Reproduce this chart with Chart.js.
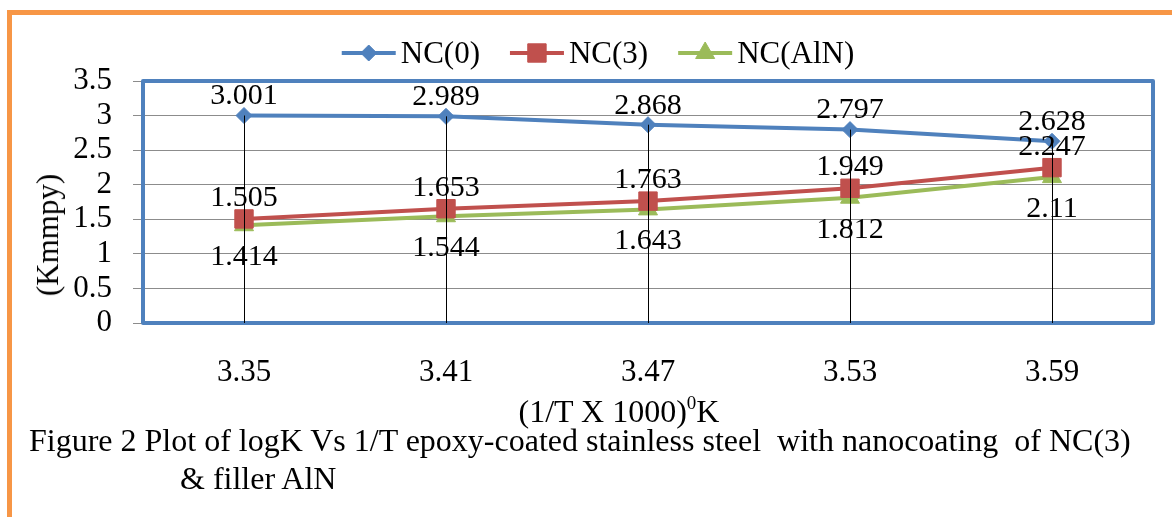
<!DOCTYPE html>
<html>
<head>
<meta charset="utf-8">
<script src="https://cdn.jsdelivr.net/npm/chart.js@4"></script>
<style>
  html, body { margin: 0; padding: 0; background: #fff; }
  #wrap { position: relative; width: 1172px; height: 517px; overflow: hidden;
          font-family: "Liberation Serif", "Times New Roman", serif; color: #000; }
  #frame { position: absolute; left: 7px; top: 10px; width: 1200px; height: 560px;
           border-top: 5px solid #F79646; border-left: 5px solid #F79646; }
  canvas { position: absolute; left: 0; top: 0; }
  .ytitle { position: absolute; left: 48px; top: 235px; font-size: 31px; white-space: nowrap;
            transform: translate(-50%, -50%) rotate(-90deg); }
  .xtitle { position: absolute; left: 619px; top: 410px; font-size: 32px; white-space: nowrap;
            transform: translate(-50%, -50%); line-height: 1; }
  .xtitle sup { font-size: 19px; vertical-align: 13px; }
  .cap { position: absolute; font-size: 32px; white-space: pre; line-height: 1; }
</style>
</head>
<body>
<div id="wrap">
  <div id="frame"></div>
  <canvas id="kChart" width="1172" height="517"></canvas>
  <div class="ytitle">(Kmmpy)</div>
  <div class="xtitle">(1/T X 1000)<sup>0</sup>K</div>
  <div class="cap" style="left:29px; top:424px;">Figure 2 Plot of logK Vs 1/T epoxy-coated stainless steel  with nanocoating  of NC(3)</div>
  <div class="cap" style="left:180px; top:462px;">&amp; filler AlN</div>
</div>
<script>
const xLabels = ['3.35', '3.41', '3.47', '3.53', '3.59'];
const nc0 = [3.001, 2.989, 2.868, 2.797, 2.628];
const nc3 = [1.505, 1.653, 1.763, 1.949, 2.247];
const ncAlN = [1.414, 1.544, 1.643, 1.812, 2.11];
const seriesNames = ['NC(0)', 'NC(3)', 'NC(AlN)'];
const yMin = 0, yMax = 3.5, yStep = 0.5;

const serif = '"Liberation Serif", "Times New Roman", serif';

// blue box round the plot area
const plotFrame = {
  id: 'plotFrame',
  beforeDatasetsDraw(chart) {
    const { ctx, chartArea: a } = chart;
    ctx.save();
    ctx.strokeStyle = '#4F81BD';
    ctx.lineWidth = 4;
    ctx.lineJoin = 'round';
    ctx.strokeRect(a.left, a.top, a.right - a.left, a.bottom - a.top);
    ctx.restore();
  }
};

// values printed next to each marker
const valueLabels = {
  id: 'valueLabels',
  afterDatasetsDraw(chart) {
    const ctx = chart.ctx;
    ctx.save();
    ctx.font = '30px ' + serif;
    ctx.fillStyle = '#000';
    ctx.textAlign = 'center';
    ctx.textBaseline = 'middle';
    chart.data.datasets.forEach((ds, i) => {
      chart.getDatasetMeta(i).data.forEach((pt, j) => {
        ctx.fillText(String(ds.data[j]), pt.x, pt.y + ds.labelShift);
      });
    });
    ctx.restore();
  }
};

// drop lines from the highest point down to zero
const dropLines = {
  id: 'dropLines',
  afterDatasetsDraw(chart) {
    const { ctx, scales } = chart;
    const metas = chart.data.datasets.map((d, i) => chart.getDatasetMeta(i));
    const base = scales.y.getPixelForValue(0);
    ctx.save();
    ctx.strokeStyle = '#000';
    ctx.lineWidth = 1;
    metas[0].data.forEach((pt, i) => {
      const top = Math.min(...metas.map(m => m.data[i].y));
      const x = Math.round(pt.x) + 0.5;
      ctx.beginPath();
      ctx.moveTo(x, top);
      ctx.lineTo(x, base);
      ctx.stroke();
    });
    ctx.restore();
  }
};

// legend with a line segment through the marker
const lineLegend = {
  id: 'lineLegend',
  afterDraw(chart) {
    const ctx = chart.ctx;
    const seg = 54, gap = 5, spacing = 30, centerX = 598, yMid = 53;
    ctx.save();
    ctx.font = '31px ' + serif;
    const items = chart.data.datasets.map(ds => ({ ds, w: seg + gap + ctx.measureText(ds.label).width }));
    const total = items.reduce((s, it) => s + it.w, 0) + spacing * (items.length - 1);
    let x = centerX - total / 2;
    items.forEach(({ ds, w }) => {
      ctx.strokeStyle = ds.borderColor;
      ctx.lineWidth = ds.borderWidth;
      ctx.beginPath();
      ctx.moveTo(x, yMid);
      ctx.lineTo(x + seg, yMid);
      ctx.stroke();
      ctx.fillStyle = ds.borderColor;
      ctx.lineWidth = ds.pointBorderWidth;
      Chart.helpers.drawPoint(ctx, {
        pointStyle: ds.pointStyle, radius: ds.pointRadius,
        borderWidth: ds.pointBorderWidth, rotation: 0
      }, x + seg / 2, yMid);
      ctx.fillStyle = '#000';
      ctx.textAlign = 'left';
      ctx.textBaseline = 'middle';
      ctx.fillText(ds.label, x + seg + gap, yMid + 2);
      x += w + spacing;
    });
    ctx.restore();
  }
};

new Chart(document.getElementById('kChart'), {
  type: 'line',
  data: {
    labels: xLabels,
    datasets: [
      { label: seriesNames[0], data: nc0, borderColor: '#4F81BD', backgroundColor: '#4F81BD',
        borderWidth: 4, pointStyle: 'rectRot', pointRadius: 8, pointBorderWidth: 1, labelShift: -19 },
      { label: seriesNames[1], data: nc3, borderColor: '#C0504D', backgroundColor: '#C0504D',
        borderWidth: 4, pointStyle: 'rect', pointRadius: 13, pointBorderWidth: 1, labelShift: -21 },
      { label: seriesNames[2], data: ncAlN, borderColor: '#9BBB59', backgroundColor: '#9BBB59',
        borderWidth: 4, pointStyle: 'triangle', pointRadius: 11, pointBorderWidth: 1, labelShift: 32 }
    ]
  },
  options: {
    responsive: false,
    animation: false,
    layout: { padding: { top: 81, right: 19, left: 0, bottom: 0 } },
    plugins: { legend: { display: false }, tooltip: { enabled: false } },
    elements: { line: { tension: 0 } },
    scales: {
      x: {
        offset: true,
        grid: { display: false, drawTicks: false },
        border: { display: false },
        ticks: { color: '#000', padding: 31, font: { family: serif, size: 31 } },
        afterFit(s) { s.height = 194; }
      },
      y: {
        min: yMin, max: yMax,
        grid: { color: '#8c8c8c', tickLength: 10 },
        border: { display: false },
        ticks: {
          stepSize: yStep, autoSkip: false, color: '#000', padding: 21,
          font: { family: serif, size: 31 },
          callback: v => String(v)
        },
        afterFit(s) { s.width = 143; }
      }
    }
  },
  plugins: [plotFrame, valueLabels, dropLines, lineLegend]
});
</script>
</body>
</html>
